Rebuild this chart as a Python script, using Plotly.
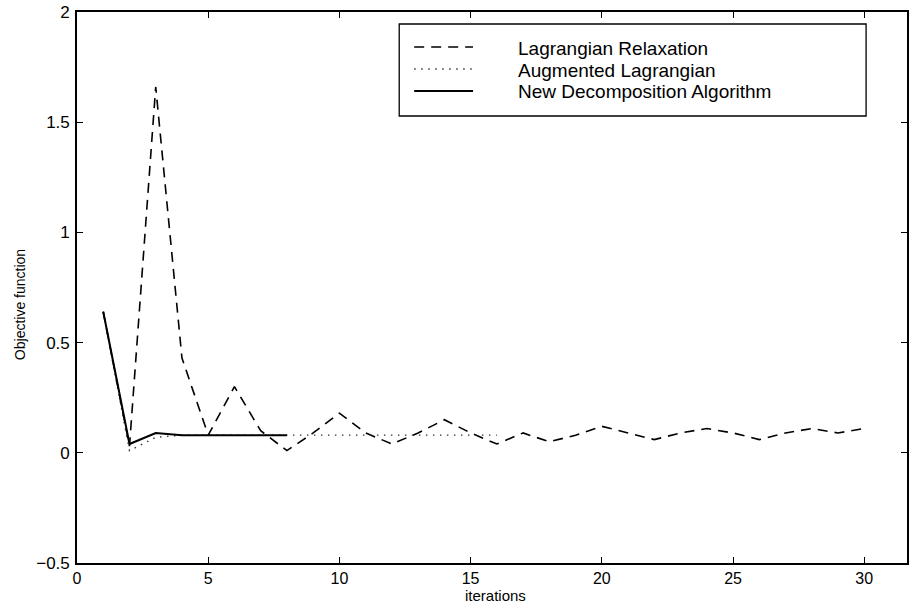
import plotly.graph_objects as go

iterations = list(range(1, 31))
lagrangian_relaxation = [0.64, 0.03, 1.66, 0.43, 0.08, 0.30, 0.10, 0.01, 0.09, 0.18,
                         0.09, 0.04, 0.09, 0.15, 0.09, 0.04, 0.09, 0.05, 0.08, 0.12,
                         0.09, 0.06, 0.09, 0.11, 0.09, 0.06, 0.09, 0.11, 0.09, 0.11]
aug_iterations = list(range(1, 17))
augmented_lagrangian = [0.64, 0.01, 0.07, 0.08, 0.08, 0.08, 0.08, 0.08,
                        0.08, 0.08, 0.08, 0.08, 0.08, 0.08, 0.08, 0.08]
new_iterations = list(range(1, 9))
new_decomposition = [0.64, 0.04, 0.09, 0.08, 0.08, 0.08, 0.08, 0.08]

legend_names = ["Lagrangian Relaxation", "Augmented Lagrangian", "New Decomposition Algorithm"]
x_ticks = [0, 5, 10, 15, 20, 25, 30]
y_ticks = [-0.5, 0, 0.5, 1, 1.5, 2]

FONT = "Liberation Sans, Arial, Helvetica, sans-serif"

fig = go.Figure()
fig.add_trace(go.Scatter(x=iterations, y=lagrangian_relaxation, mode="lines",
                         name=legend_names[0],
                         line=dict(color="black", width=1.6, dash="10px,7px")))
fig.add_trace(go.Scatter(x=aug_iterations, y=augmented_lagrangian, mode="lines",
                         name=legend_names[1],
                         line=dict(color="#333333", width=1.4, dash="1.5px,5.5px")))
fig.add_trace(go.Scatter(x=new_iterations, y=new_decomposition, mode="lines",
                         name=legend_names[2],
                         line=dict(color="black", width=2)))

# plot area in pixels: x 77..909, y 12..563
L, R, T, B = 77, 909, 12, 563
W, H = R - L, B - T


def px(xp):
    return (xp - L) / W


def py(yp):
    return (B - yp) / H


shapes = [
    dict(type="rect", xref="paper", yref="paper",
         x0=px(400), x1=px(868), y0=py(116), y1=py(24),
         line=dict(color="black", width=1.3), fillcolor="white", layer="above"),
]
styles = [dict(color="black", width=1.6, dash="10px,7px"),
          dict(color="#333333", width=1.4, dash="1.5px,5.5px"),
          dict(color="black", width=2)]
rows = [47, 69, 91]
annotations = []
for name, st, yy in zip(legend_names, styles, rows):
    shapes.append(dict(type="line", xref="paper", yref="paper",
                       x0=px(415), x1=px(474), y0=py(yy), y1=py(yy),
                       line=st, layer="above"))
    annotations.append(dict(text=name, xref="paper", yref="paper",
                            x=px(518), y=py(yy + 1), xanchor="left", yanchor="middle",
                            showarrow=False, borderpad=0,
                            font=dict(family=FONT, size=19, color="black")))

annotations.append(dict(text="iterations", xref="paper", yref="paper",
                        x=px(497), y=py(595), xanchor="center", yanchor="middle",
                        showarrow=False, borderpad=0,
                        font=dict(family=FONT, size=15, color="black")))
annotations.append(dict(text="Objective function", xref="paper", yref="paper",
                        x=px(20), y=py(305), xanchor="center", yanchor="middle",
                        textangle=-90, borderpad=0,
                        showarrow=False, font=dict(family=FONT, size=14, color="black")))

fig.update_layout(
    width=910, height=604,
    margin=dict(l=L, r=910 - R, t=T, b=604 - B),
    paper_bgcolor="white", plot_bgcolor="white",
    showlegend=False,
    shapes=shapes,
    annotations=annotations,
    font=dict(family=FONT, color="black"),
)
fig.update_xaxes(range=[0, 31.63], tickvals=x_ticks, ticktext=[str(v) for v in x_ticks],
                 ticks="inside", ticklen=6, tickwidth=1.2, tickcolor="black",
                 showline=True, linecolor="black", linewidth=1.6, mirror="ticks",
                 showgrid=False, zeroline=False, ticklabelstandoff=0,
                 tickfont=dict(family=FONT, size=16, color="black"))
fig.update_yaxes(range=[-0.5, 2], tickvals=y_ticks,
                 ticktext=["\u22120.5", "0", "0.5", "1", "1.5", "2"],
                 ticks="inside", ticklen=6, tickwidth=1.2, tickcolor="black",
                 showline=True, linecolor="black", linewidth=1.6, mirror="ticks",
                 showgrid=False, zeroline=False, ticklabelstandoff=2,
                 tickfont=dict(family=FONT, size=17, color="black"))

fig.write_html("out.html")
